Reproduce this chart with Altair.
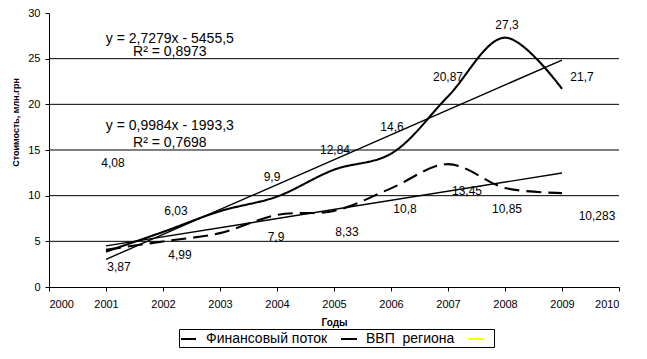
import altair as alt
import pandas as pd

# ---------------- data ----------------
years = [2001, 2002, 2003, 2004, 2005, 2006, 2007, 2008, 2009]
gdp = [3.87, 6.03, 8.3, 9.9, 12.84, 14.6, 20.87, 27.3, 21.7]
flow = [4.08, 4.99, 5.9, 7.9, 8.33, 10.8, 13.45, 10.85, 10.283]

series_names = ["Финансовый поток", "ВВП\u00a0\u00a0региона", " "]
series_colors = ["black", "black", "#FFFF00"]
series_dash = [[15, 7], [1, 0], [1, 0]]

labeled_years = [2001, 2002, 2004, 2005, 2006, 2007, 2008, 2009]

trend_slope = [0.9984, 2.7279]
trend_intercept = [-1993.3, -5455.5]
trend_years = [2001, 2009]
equations = ["y = 0,9984x - 1993,3", "y = 2,7279x - 5455,5"]
r2_texts = ["R² = 0,7698", "R² = 0,8973"]

x_ticks = list(range(2000, 2011))
y_ticks = [0, 5, 10, 15, 20, 25, 30]
grid_values = [5, 10, 15, 20, 25]

# label pixel offsets (manual label placement, as in the original)
gdp_label_dx = [13, 13, -5, 1, 1, 0, 2, 20]
gdp_label_dy = [15, -21, -20, -20, -27, -19, -13, -12]
flow_label_dx = [7, 17, -1, 13, 14, 19, 2, 35]
flow_label_dy = [-87, 14, 22, 21, 21, 27, 21, 23]

# annotation anchors (data coordinates)
eq_x = [2002.12, 2002.12]
eq_y = [17.6, 27.15]
r2_y = [15.8, 25.75]

FONT = "Liberation Sans"

# ---------------- tables ----------------
lines_df = pd.DataFrame(
    {"year": years * 2,
     "value": flow + gdp,
     "series": [series_names[0]] * len(years) + [series_names[1]] * len(years)}
)

def label_rows(name, vals, dxs, dys):
    rows = []
    k = 0
    for y, v in zip(years, vals):
        if y in labeled_years:
            rows.append({"year": y, "value": v, "series": name,
                         "label": str(v).replace(".", ","),
                         "dx": dxs[k], "dy": dys[k]})
            k += 1
    return rows

labels_df = pd.DataFrame(
    label_rows(series_names[0], flow, flow_label_dx, flow_label_dy)
    + label_rows(series_names[1], gdp, gdp_label_dx, gdp_label_dy)
)

trend_rows = []
for i, (s, b) in enumerate(zip(trend_slope, trend_intercept)):
    for ty in trend_years:
        trend_rows.append({"year": ty, "value": s * ty + b, "trend": i})
trend_df = pd.DataFrame(trend_rows)

ann_rows = []
for i in range(2):
    ann_rows.append({"x": eq_x[i], "y": eq_y[i], "text": equations[i]})
    ann_rows.append({"x": eq_x[i], "y": r2_y[i], "text": r2_texts[i]})
ann_df = pd.DataFrame(ann_rows)

grid_df = pd.DataFrame({"v": grid_values})

# ---------------- scales ----------------
xscale = alt.Scale(domain=[2000, 2010], nice=False, zero=False)
yscale = alt.Scale(domain=[0, 30], nice=False)

x_axis = alt.Axis(values=x_ticks, format="d", title="Годы", grid=False,
                  labelFont=FONT, labelFontSize=11, labelColor="black",
                  tickSize=4, tickColor="black", domainColor="black",
                  labelPadding=7, titleFont=FONT, titleFontSize=10,
                  titleFontWeight="bold", titleColor="black", titlePadding=8)
y_axis = alt.Axis(values=y_ticks, title="Стоимость, млн.грн", grid=False,
                  labelFont=FONT, labelFontSize=11, labelColor="black",
                  tickSize=4, tickColor="black", domainColor="black",
                  labelPadding=5, titleFont=FONT, titleFontSize=9,
                  titleFontWeight="bold", titleColor="black",
                  titleX=-34, titleY=109, titleAlign="center",
                  titleBaseline="middle", titleAngle=270)

color = alt.Color(
    "series:N",
    scale=alt.Scale(domain=series_names, range=series_colors),
    sort=series_names,
    legend=alt.Legend(title=None, orient="none", legendX=130, legendY=316,
                      direction="horizontal", symbolType="stroke",
                      symbolSize=256, symbolStrokeWidth=2,
                      labelFont=FONT, labelFontSize=14, labelColor="black",
                      strokeColor="black", padding=1, columnPadding=9,
                      labelOffset=8, cornerRadius=0, rowPadding=0),
)
dash = alt.StrokeDash(
    "series:N",
    scale=alt.Scale(domain=series_names, range=series_dash),
    legend=None,
)

grid = alt.Chart(grid_df).mark_rule(color="black", strokeWidth=1).encode(
    y=alt.Y("v:Q", scale=yscale, axis=y_axis)
)

curves = alt.Chart(lines_df).mark_line(
    interpolate="catmull-rom", strokeWidth=2.1
).encode(
    x=alt.X("year:Q", scale=xscale, axis=x_axis),
    y=alt.Y("value:Q", scale=yscale, axis=y_axis),
    color=color,
    strokeDash=dash,
)

trend = alt.Chart(trend_df).mark_line(color="black", strokeWidth=1.4).encode(
    x=alt.X("year:Q", scale=xscale),
    y=alt.Y("value:Q", scale=yscale),
    detail="trend:N",
)

labels = alt.Chart(labels_df).mark_text(
    font=FONT, fontSize=12, color="black", align="center", baseline="middle",
    dx=alt.ExprRef("datum.dx"), dy=alt.ExprRef("datum.dy"),
).encode(
    x=alt.X("year:Q", scale=xscale),
    y=alt.Y("value:Q", scale=yscale),
    text="label:N",
)

ann = alt.Chart(ann_df).mark_text(
    font=FONT, fontSize=14, color="black", align="center", baseline="middle"
).encode(
    x=alt.X("x:Q", scale=xscale),
    y=alt.Y("y:Q", scale=yscale),
    text="text:N",
)

chart = alt.layer(grid, trend, curves, labels, ann).properties(
    width=570, height=274,
    autosize=alt.AutoSizeParams(type="none"),
    padding={"left": 41, "top": 5, "right": 20, "bottom": 64},
    background="white",
).configure_view(stroke=None)

chart.save("out.html", embed_options={"renderer": "svg", "actions": False})
